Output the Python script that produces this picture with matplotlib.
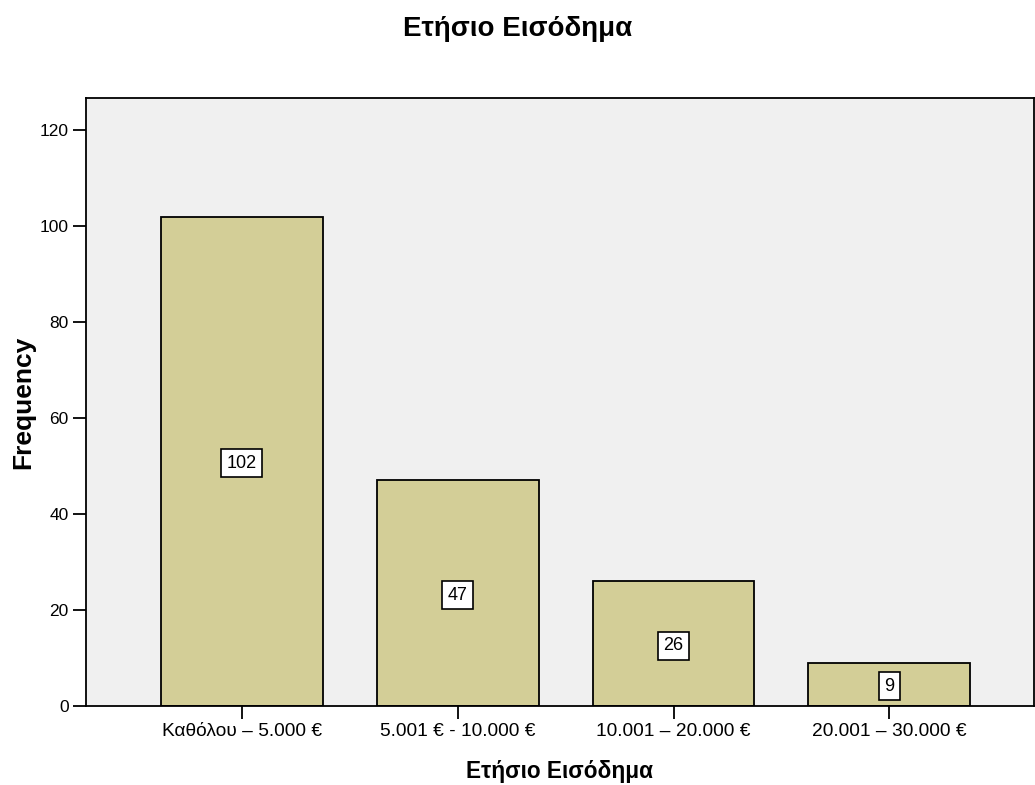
import matplotlib
matplotlib.use("Agg")
import matplotlib.pyplot as plt

plt.rcParams['font.family'] = ['Liberation Sans', 'DejaVu Sans']

categories = ["Καθόλου – 5.000 €", "5.001 € - 10.000 €", "10.001 – 20.000 €", "20.001 – 30.000 €"]
frequencies = [102, 47, 26, 9]
y_ticks = [0, 20, 40, 60, 80, 100, 120]
title = "Ετήσιο Εισόδημα"

fig = plt.figure(figsize=(10.35, 7.85), dpi=100)
ax = fig.add_axes([86 / 1035, 1 - 706 / 785, 1 - 86 / 1035 - 1 / 1035, (706 - 98) / 785])
ax.set_facecolor('#F0F0F0')

x = list(range(len(categories)))
ax.bar(x, frequencies, width=0.75, color='#D3CE97', edgecolor='black', linewidth=1.3, zorder=2)

for xi, v in zip(x, frequencies):
    ax.text(xi, v / 2, str(v), ha='center', va='center_baseline', fontsize=13, zorder=3,
            bbox=dict(boxstyle='square,pad=0.3', facecolor='white', edgecolor='black', linewidth=1.2))

ax.set_xlim(-0.722, 3.67)
ax.set_ylim(0, 126.7)
ax.set_xticks(x)
ax.set_xticklabels(categories, fontsize=13.8)
ax.set_yticks(y_ticks)
ax.set_yticklabels([str(t) for t in y_ticks], fontsize=12.5)
ax.tick_params(axis='both', direction='out', length=9.5, width=1.3, pad=3)
for s in ax.spines.values():
    s.set_linewidth(1.3)

ax.set_xlabel(title, fontsize=16.3, fontweight='bold', labelpad=14)
ax.set_ylabel("Frequency", fontsize=19, fontweight='bold', labelpad=3)
fig.text(0.5, 1 - 29 / 785, title, ha='center', va='center', fontsize=20, fontweight='bold')

fig.savefig("out.png", dpi=100)
